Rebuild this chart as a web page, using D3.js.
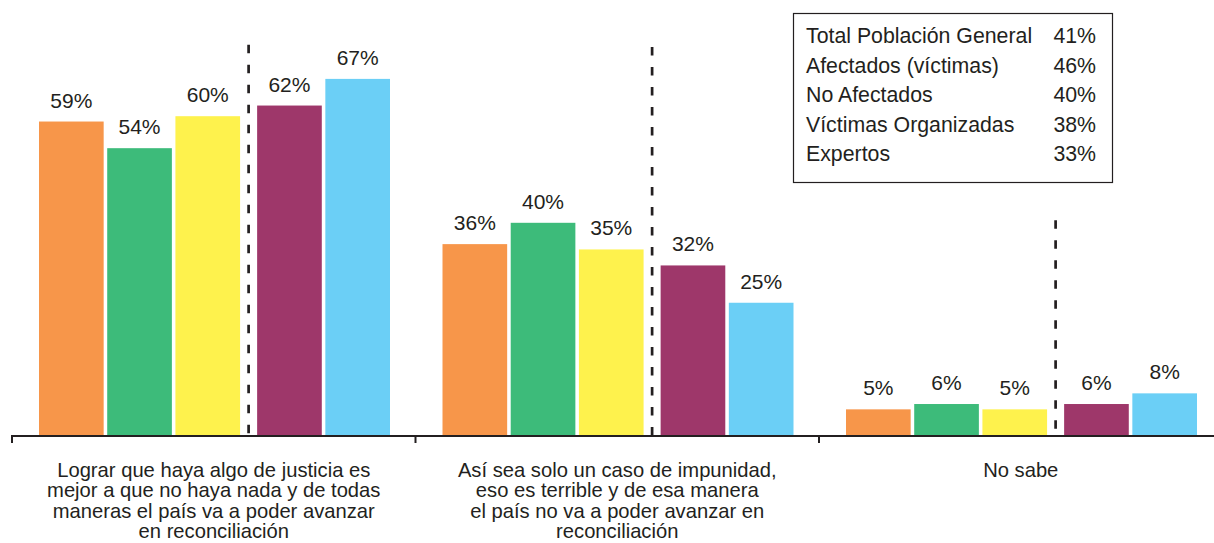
<!DOCTYPE html>
<html><head><meta charset="utf-8">
<script src="https://cdn.jsdelivr.net/npm/d3@7"></script>
<style>
html,body{margin:0;padding:0;background:#fff;}
svg{display:block;font-family:"Liberation Sans",Arial,Helvetica,sans-serif;}
</style></head>
<body>
<svg id="chart" width="1214" height="543"></svg>
<script>
const categories = [
  ["Lograr que haya algo de justicia es","mejor a que no haya nada y de todas","maneras el país va a poder avanzar","en reconciliación"],
  ["Así sea solo un caso de impunidad,","eso es terrible y de esa manera","el país no va a poder avanzar en","reconciliación"],
  ["No sabe"]
];
const series = ["Total Población General","Afectados (víctimas)","No Afectados","Víctimas Organizadas","Expertos"];
const colors = ["#f7964a","#3dbb7a","#fef24d","#9e376a","#6bcff6"];
const values = [
  [59, 36, 5],
  [54, 40, 6],
  [60, 35, 5],
  [62, 32, 6],
  [67, 25, 8]
];
const legendValues = ["41%","46%","40%","38%","33%"];
const separatorTop = [73.4, 73, 40.5];

const svg = d3.select("#chart");
const baseY = 436;
const y = d3.scaleLinear().domain([0,100]).range([baseY, baseY-533]);
const catIdx = categories.map((c,i)=>i);
const x = d3.scaleBand().domain(catIdx).range([12, 12+3*403.5]);
const inner = d3.scaleBand().domain(d3.range(series.length)).range([27, 27+5*67.5]).paddingInner(0.052);
const gapShift = 13.5;
const bx = (ci, si) => x(ci) + inner(si) + (si>=3 ? gapShift : 0);
const textColor = "#231f20";
const fs = 21;

// separators
catIdx.forEach(ci=>{
  const yEnd = x(ci) + inner(2) + inner.bandwidth();
  const sx = yEnd + (inner(3)+gapShift - inner(2) - inner.bandwidth())/2;
  svg.append("line").attr("x1",sx).attr("x2",sx)
    .attr("y1",y(separatorTop[ci])).attr("y2",baseY)
    .attr("stroke",textColor).attr("stroke-width",2.7).attr("stroke-dasharray","8.5,11.5");
});

// bars
series.forEach((s,si)=>{
  catIdx.forEach(ci=>{
    const v = values[si][ci];
    svg.append("rect").attr("x",bx(ci,si)).attr("y",y(v))
      .attr("width",inner.bandwidth()).attr("height",baseY-y(v))
      .attr("fill",colors[si]);
    svg.append("text").attr("x",bx(ci,si)+inner.bandwidth()/2).attr("y",y(v)-14)
      .attr("text-anchor","middle").attr("font-size",fs).attr("fill",textColor)
      .text(v+"%");
  });
});

// axis
const axisG = svg.append("g").attr("transform",`translate(0,${baseY})`);
axisG.append("line").attr("x1",11).attr("x2",1214).attr("y1",0).attr("y2",0)
  .attr("stroke",textColor).attr("stroke-width",2);
[0,1,2,3].forEach(i=>{
  const tx = 12 + i*403.5;
  axisG.append("line").attr("x1",tx).attr("x2",tx).attr("y1",0).attr("y2",7)
    .attr("stroke",textColor).attr("stroke-width",2);
});

// category labels
catIdx.forEach(ci=>{
  const t = svg.append("text").attr("text-anchor","middle").attr("font-size",20.2).attr("fill",textColor);
  categories[ci].forEach((line,li)=>{
    t.append("tspan").attr("x",x(ci)+x.bandwidth()/2).attr("y",477+li*20.4).text(line);
  });
});

// legend table
const lg = svg.append("g");
lg.append("rect").attr("x",793.5).attr("y",13.5).attr("width",319).attr("height",169)
  .attr("fill","#fff").attr("stroke",textColor).attr("stroke-width",1.2);
series.forEach((s,i)=>{
  const ty = 43 + i*29.5;
  lg.append("text").attr("x",806).attr("y",ty).attr("font-size",21.3).attr("fill",textColor).text(s);
  lg.append("text").attr("x",1096).attr("y",ty).attr("text-anchor","end").attr("font-size",21.3).attr("fill",textColor).text(legendValues[i]);
});
</script>
</body></html>
